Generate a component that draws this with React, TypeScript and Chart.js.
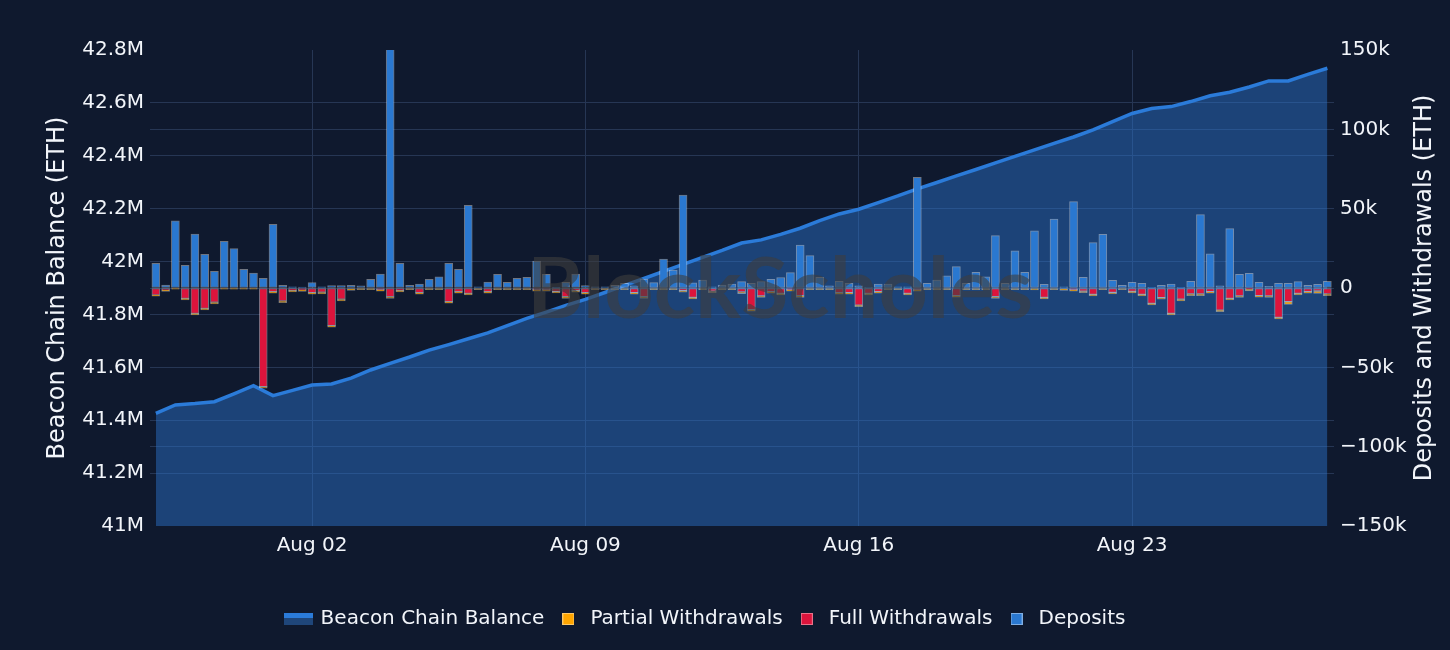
import React, { useEffect, useRef } from 'react';
import { Chart, registerables } from 'chart.js';

Chart.register(...registerables);

const FONT = '"DejaVu Sans", Verdana, sans-serif';
const WATERMARK_FONT = 'Lato, "Noto Sans", sans-serif';
const TEXT = '#f2f5fa';
const GRID = '#263654';
const BG = '#0f192e';
const LINE = '#2b7bd9';
const AREA = 'rgba(44,120,210,0.45)';
const AREA_SOLID = '#1f467a';
const DEPOSIT = '#2a78d0';
const FULL = '#dc143c';
const PARTIAL = '#ffa500';
const EDGE = 'rgba(255,255,255,0.4)';

// x axis: days since Jul 29 00:00
const barStepDays = 0.25; // 6-hourly flows
const lineStepDays = 0.5; // 12-hourly balance
const xMin = -0.15;
const xMax = 30.17;
const xTickDays = [4, 11, 18, 25];
const xTickLabels = ['Aug 02', 'Aug 09', 'Aug 16', 'Aug 23'];

const leftMin = 41000000;
const leftMax = 42800000;
const leftStep = 200000;
const rightMin = -150000;
const rightMax = 150000;
const rightStep = 50000;

const seriesNames = ['Beacon Chain Balance', 'Full Withdrawals', 'Partial Withdrawals', 'Deposits'];
const legendRank = [0, 2, 1, 3];
const leftTitle = 'Beacon Chain Balance (ETH)';
const rightTitle = 'Deposits and Withdrawals (ETH)';
const watermarkText = 'BlockScholes';

const balance = [
  41426000, 41458000, 41463000, 41470000, 41500000, 41531000, 41493000, 41513000, 41533000, 41537000,
  41559000, 41590000, 41615000, 41639000, 41665000, 41686000, 41708000, 41730000, 41758000, 41785000,
  41809000, 41834000, 41857000, 41883000, 41910000, 41936000, 41963000, 41989000, 42016000, 42042000,
  42070000, 42082000, 42103000, 42126000, 42155000, 42180000, 42198000, 42223000, 42248000, 42275000,
  42299000, 42324000, 42348000, 42373000, 42398000, 42422000, 42447000, 42471000, 42498000, 42529000,
  42560000, 42579000, 42586000, 42605000, 42627000, 42640000, 42660000, 42683000, 42683000, 42708000,
  42731000,
];

const deposits = [
  15600, 1900, 42400, 14300, 34000, 21200, 10500, 29400, 24800, 11800,
  9400, 6100, 40100, 1700, 800, 600, 3400, 800, 1500, 1500,
  1700, 1300, 5500, 8800, 160000, 15600, 1700, 2500, 5500, 7100,
  15600, 11800, 52100, 800, 3800, 8600, 3600, 6100, 6700, 17000,
  8600, 500, 3600, 8800, 1500, 800, 800, 1700, 3000, 1300,
  5700, 3400, 18300, 11300, 58500, 3200, 5000, 800, 1800, 2500,
  4000, 3000, 4000, 5500, 6600, 9700, 27000, 20400, 6700, 1300,
  4200, 3000, 1300, 400, 2500, 2500, 800, 800, 69800, 3000,
  5000, 7700, 13500, 3000, 9900, 7100, 33000, 3000, 23500, 9900,
  36100, 2300, 43500, 700, 54400, 6700, 28600, 33800, 4800, 1700,
  3600, 3000, 200, 1700, 2500, 500, 4200, 46200, 21600, 1300,
  37400, 8600, 9200, 3600, 1000, 3000, 3000, 4000, 1700, 2300, 4200,
];

const fullWithdrawals = [
  -4400, -1300, 0, -6500, -16000, -12800, -9000, 0, 0, 0,
  0, -62200, -2300, -8200, -1500, -1200, -2900, -2700, -23700, -7100,
  0, 0, 0, -1000, -5500, -1500, 0, -2900, 0, 0,
  -8600, -2300, -3400, 0, -2300, 0, 0, 0, 0, -1000,
  -1000, -2300, -5500, -1700, -2900, 0, 0, 0, 0, -2900,
  -5500, 0, 0, 0, -1700, -5900, 0, -2000, 0, 0,
  -2500, -13600, -5000, -2300, -3400, -1000, -4900, 0, 0, 0,
  -2900, -2900, -10800, -3400, -2300, 0, 0, -3400, -1000, 0,
  0, 0, -4800, 0, 0, 0, -5500, 0, 0, 0,
  0, -5900, 0, 0, -1000, -2000, -4000, 0, -2800, 0,
  -2100, -4000, -9700, -6100, -16000, -7100, -3800, -3800, -2300, -13900,
  -6500, -5000, -500, -4800, -5000, -18500, -8600, -3400, -2300, -1900, -3800,
];

const partialWithdrawals = [
  -800, -800, -800, -1000, -1000, -1000, -1000, -800, -800, -800,
  -800, -1000, -1000, -1000, -1000, -1000, -1000, -1000, -1000, -1000,
  -1500, -1000, -1000, -1000, -1000, -1000, -1000, -1000, -1000, -1000,
  -1000, -1000, -1000, -1000, -1000, -1000, -1000, -1000, -1000, -1000,
  -1000, -800, -1000, -1000, -1000, -1000, -1000, -1000, -1000, -1000,
  -1000, -1000, -1000, -1000, -1000, -1000, -1000, -1000, -1000, -1000,
  -1000, -1000, -1000, -1000, -1000, -1000, -1000, -1000, -1000, -1000,
  -1000, -1000, -1000, -1000, -1000, -1000, -1000, -1000, -1000, -1000,
  -1000, -1000, -1000, -1000, -1000, -1000, -1000, -1000, -1000, -1000,
  -1200, -1000, -1000, -1500, -1000, -1000, -1000, -1000, -1000, -1000,
  -1000, -1000, -1000, -1000, -1000, -1000, -1000, -1000, -1000, -1000,
  -1000, -1000, -1300, -1000, -1000, -1000, -1700, -1000, -1000, -1500, -1000,
];

function toPoints(values: number[], step: number) {
  return values.map((v, i) => ({ x: i * step, y: v }));
}

function fmtLeft(v: number) {
  return `${+(v / 1e6).toFixed(1)}M`;
}

function fmtRight(v: number) {
  if (v === 0) return '0';
  return `${v < 0 ? '\u2212' : ''}${Math.abs(v) / 1000}k`;
}

function makeSquare(fill: string) {
  const c = document.createElement('canvas');
  c.width = 12;
  c.height = 12;
  const g = c.getContext('2d')!;
  g.fillStyle = fill;
  g.fillRect(0, 0, 12, 12);
  g.strokeStyle = EDGE;
  g.lineWidth = 1;
  g.strokeRect(0.5, 0.5, 11, 11);
  return c;
}

function makeLineIcon() {
  const c = document.createElement('canvas');
  c.width = 29;
  c.height = 12;
  const g = c.getContext('2d')!;
  g.fillStyle = AREA_SOLID;
  g.fillRect(0, 5, 29, 7);
  g.fillStyle = LINE;
  g.fillRect(0, 0, 29, 5);
  return c;
}

const overlayPlugin = {
  id: 'overlayText',
  afterDatasetsDraw(chart: any) {
    const { ctx, chartArea: a } = chart;
    const w = a.right - a.left;
    const h = a.bottom - a.top;
    ctx.save();
    ctx.beginPath();
    ctx.rect(a.left, a.top, w, h);
    ctx.clip();
    ctx.font = `bold 84px ${WATERMARK_FONT}`;
    const tw = ctx.measureText(watermarkText).width;
    const target = w * 0.4274;
    ctx.translate(a.left + w * 0.3184, a.top + h * 0.563);
    ctx.scale(target / tw, 1);
    ctx.fillStyle = 'rgba(62,62,62,0.6)';
    ctx.textAlign = 'left';
    ctx.textBaseline = 'alphabetic';
    ctx.fillText(watermarkText, 0, 0);
    ctx.restore();
  },
  afterDraw(chart: any) {
    const { ctx, chartArea: a } = chart;
    ctx.save();
    ctx.translate(chart.width - 25, (a.top + a.bottom) / 2);
    ctx.rotate(-Math.PI / 2);
    ctx.font = `24px ${FONT}`;
    ctx.fillStyle = TEXT;
    ctx.textAlign = 'center';
    ctx.textBaseline = 'middle';
    ctx.fillText(rightTitle, 0, 0);
    ctx.restore();
  },
};

export default function App() {
  const canvasRef = useRef<HTMLCanvasElement | null>(null);

  useEffect(() => {
    if (!canvasRef.current) return;
    const icons = [makeLineIcon(), makeSquare(FULL), makeSquare(PARTIAL), makeSquare(DEPOSIT)];
    const edgeGrid = (lo: number, hi: number) => (c: any) =>
      c.tick && (c.tick.value === lo || c.tick.value === hi) ? 'rgba(0,0,0,0)' : GRID;

    const barCommon = {
      type: 'bar' as const,
      yAxisID: 'y1',
      stack: 'flows',
      borderColor: EDGE,
      borderWidth: 1,
      borderSkipped: false as const,
      barThickness: 8,
      clip: 0,
      order: 0,
    };

    const chart = new Chart(canvasRef.current, {
      type: 'bar',
      data: {
        datasets: [
          {
            type: 'line',
            label: seriesNames[0],
            data: toPoints(balance, lineStepDays),
            yAxisID: 'y',
            borderColor: LINE,
            backgroundColor: AREA,
            borderWidth: 3.5,
            pointRadius: 0,
            tension: 0,
            fill: 'start',
            order: 1,
          } as any,
          { ...barCommon, label: seriesNames[1], data: toPoints(fullWithdrawals, barStepDays), backgroundColor: FULL } as any,
          { ...barCommon, label: seriesNames[2], data: toPoints(partialWithdrawals, barStepDays), backgroundColor: PARTIAL } as any,
          { ...barCommon, label: seriesNames[3], data: toPoints(deposits, barStepDays), backgroundColor: DEPOSIT } as any,
        ],
      },
      options: {
        animation: false,
        responsive: true,
        maintainAspectRatio: false,
        layout: { padding: { top: 50, left: 0, right: 38, bottom: 11 } },
        plugins: {
          tooltip: { enabled: false },
          legend: {
            position: 'bottom',
            labels: {
              color: TEXT,
              font: { family: FONT, size: 20 },
              usePointStyle: true,
              pointStyleWidth: 24,
              padding: 12,
              generateLabels: (ch: any) =>
                ch.data.datasets.map((ds: any, i: number) => ({
                  text: ds.label,
                  pointStyle: icons[i],
                  datasetIndex: i,
                  hidden: !ch.isDatasetVisible(i),
                  fontColor: TEXT,
                  lineWidth: 0,
                  strokeStyle: 'rgba(0,0,0,0)',
                  fillStyle: 'rgba(0,0,0,0)',
                })),
              sort: (a: any, b: any) => legendRank[a.datasetIndex] - legendRank[b.datasetIndex],
            },
          },
        },
        scales: {
          x: {
            type: 'linear',
            min: xMin,
            max: xMax,
            bounds: 'data',
            offset: false,
            grid: { color: GRID, drawTicks: false, offset: false },
            border: { display: false },
            afterBuildTicks: (axis: any) => {
              axis.ticks = xTickDays.map((v) => ({ value: v }));
            },
            afterFit: (axis: any) => {
              axis.height = 71;
            },
            ticks: {
              autoSkip: false,
              maxRotation: 0,
              padding: 8,
              color: TEXT,
              font: { family: FONT, size: 20 },
              callback: (value: any) => xTickLabels[xTickDays.indexOf(Number(value))] ?? '',
            },
          },
          y: {
            type: 'linear',
            position: 'left',
            min: leftMin,
            max: leftMax,
            grid: { color: edgeGrid(leftMin, leftMax), drawTicks: false },
            border: { display: false },
            afterFit: (axis: any) => {
              axis.width = 150;
            },
            title: {
              display: true,
              text: leftTitle,
              color: TEXT,
              font: { family: FONT, size: 24 },
              padding: { top: 43, bottom: 0 },
            },
            ticks: {
              stepSize: leftStep,
              padding: 6,
              color: TEXT,
              font: { family: FONT, size: 20 },
              callback: (v: any) => fmtLeft(Number(v)),
            },
          },
          y1: {
            type: 'linear',
            position: 'right',
            stacked: true,
            min: rightMin,
            max: rightMax,
            grid: { color: edgeGrid(rightMin, rightMax), drawTicks: false },
            border: { display: false },
            afterFit: (axis: any) => {
              axis.width = 78;
            },
            ticks: {
              stepSize: rightStep,
              padding: 6,
              color: TEXT,
              font: { family: FONT, size: 20 },
              callback: (v: any) => fmtRight(Number(v)),
            },
          },
        },
      } as any,
      plugins: [overlayPlugin],
    });

    return () => chart.destroy();
  }, []);

  return (
    <div style={{ position: 'fixed', left: 0, top: 0, width: 1450, height: 650, background: BG }}>
      <div style={{ position: 'relative', width: 1450, height: 650 }}>
        <canvas ref={canvasRef} />
      </div>
    </div>
  );
}
